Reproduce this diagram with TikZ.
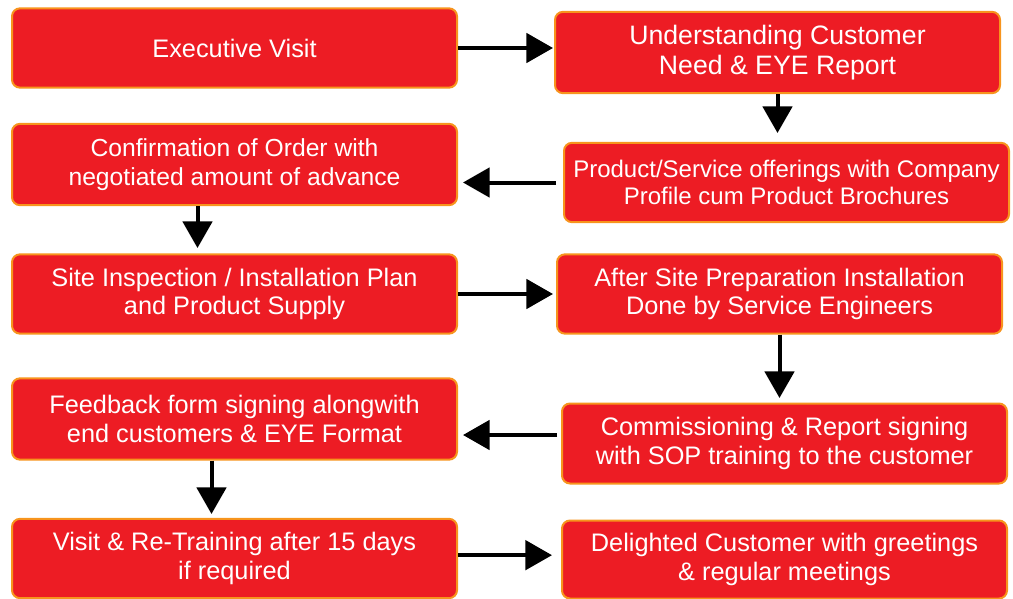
\documentclass[tikz,border=0pt]{standalone}
\usepackage{fontspec}
\setmainfont{Liberation Sans}
\usetikzlibrary{arrows.meta}

\definecolor{boxred}{HTML}{ED1C24}
\definecolor{boxedge}{HTML}{F7941D}

\begin{document}
\begin{tikzpicture}[x=0.75pt, y=-0.75pt,
    stage/.style={rectangle, rounded corners=6pt, fill=boxred, draw=boxedge,
      line width=1.5pt, minimum width=333.75pt, minimum height=59.5pt,
      inner sep=2pt, text=white, align=center,
      font=\fontsize{19pt}{21.5pt}\selectfont},
    flow/.style={-{Triangle[length=20pt, width=22pt]}, line width=3pt, black}]

  \useasboundingbox (0, 0) rectangle (1013, 599);

  % Row 1
  \node[stage] (visit) at (234.5, 48) {Executive Visit};
  \node[stage, minimum height=61pt, font=\fontsize{20pt}{22.5pt}\selectfont] (need) at (777.5, 52.5) {Understanding Customer\\Need \& EYE Report};

  \draw[flow] (visit.east) -- (visit.east -| 553, 0);
  \draw[flow] (need.south) -- (need.south |- 0, 133);

  % Row 2
  \node[stage, minimum height=61pt, font=\fontsize{18.5pt}{21.5pt}\selectfont] (order) at (234.5, 164.5) {Confirmation of Order with\\negotiated amount of advance};
  \node[stage, font=\fontsize{18pt}{20.5pt}\selectfont] (offer) at (786.5, 182.5) {Product/Service offerings with Company\\Profile cum Product Brochures};

  \draw[flow, shorten >=3.75pt] ([xshift=-5.25pt]offer.west) -- (offer.west -| order.east);
  \draw[flow] ([xshift=-27.75pt]order.south) -- ([xshift=-27.75pt]order.south |- 0, 248);

  % Row 3
  \node[stage] (site) at (234.5, 294) {Site Inspection / Installation Plan\\and Product Supply};
  \node[stage] (install) at (779.5, 294) {After Site Preparation Installation\\Done by Service Engineers};

  \draw[flow] (site.east) -- (site.east -| 553, 0);
  \draw[flow] (install.south) -- (install.south |- 0, 398);

  % Row 4
  \node[stage, minimum height=61pt] (feedback) at (234.5, 419) {Feedback form signing alongwith\\end customers \& EYE Format};
  \node[stage, minimum height=60pt] (commission) at (784.5, 443.5) {Commissioning \& Report signing\\with SOP training to the customer};

  \coordinate (back) at (557, 435);
  \draw[flow, shorten >=3.75pt] (back) -- (back -| feedback.east);
  \draw[flow] ([xshift=-17.25pt]feedback.south) -- ([xshift=-17.25pt]feedback.south |- 0, 514);

  % Row 5
  \node[stage] (retrain) at (234.5, 558.5) {Visit \& Re-Training after 15 days\\if required};
  \node[stage, minimum height=58.5pt] (delight) at (784.5, 559.5) {Delighted Customer with greetings\\\& regular meetings};

  \draw[flow] ([yshift=2.5pt]retrain.east) -- ([yshift=2.5pt]retrain.east -| 552, 0);
\end{tikzpicture}
\end{document}
